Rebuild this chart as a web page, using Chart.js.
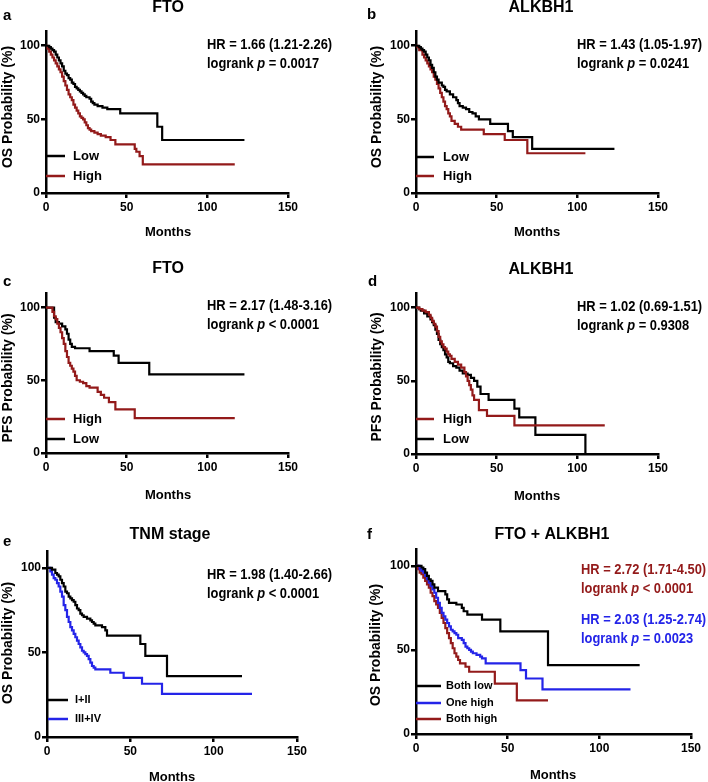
<!DOCTYPE html>
<html>
<head>
<meta charset="utf-8">
<script src="https://cdn.jsdelivr.net/npm/chart.js@4.4.1/dist/chart.umd.min.js"></script>
<style>
  body { margin: 0; background: #fff; }
  #fig { position: relative; width: 708px; height: 782px; }
  #fig canvas { position: absolute; }
</style>
</head>
<body>
<div id="fig"></div>
<script>
// axis ticks
const monthTicks = [0, 50, 100, 150];
const probTicks = [0, 50, 100];

// Kaplan-Meier steps: [months, survival %]
const osFtoLow = [[0,100],[2,99],[3,98],[4,97],[5,96],[6,94],[7,92],[8,90],[9,88],[10,86],[11,83],[12,81],[13,80],[14,78],[15,77],[16,75],[17,74],[18,72],[19,71],[20,70],[21,69],[22,68],[23,67],[24,66],[25,65],[27,64],[28,62],[29,61],[30,60],[32,59],[35,58],[38,57],[46,54],[69,45],[72,36],[123,36]];
const osFtoHigh = [[0,100],[1,98],[2,96],[3,94],[4,92],[5,90],[6,88],[7,86],[8,84],[9,82],[10,79],[11,76],[12,73],[13,70],[14,67],[15,65],[16,63],[17,60],[18,58],[19,56],[20,54],[21,52],[22,51],[23,50],[24,48],[25,46],[26,44],[27,43],[28,42],[30,41],[32,40],[34,39],[37,38],[40,36],[43,33],[55,30],[56,28],[58,25],[60,19.5],[117,19.5]];

const osAlkLow = [[0,100],[2,99],[3,98],[4,97],[5,96],[6,94],[7,92],[8,90],[9,87],[10,85],[11,82],[12,79],[13,77],[14,75],[16,73],[17,72],[18,70],[19,69],[21,67],[23,65],[25,63],[26,61],[27,59],[29,58],[31,57],[33,55],[35,54],[37,52],[39,50],[46,47],[57,42],[60,38],[72,30],[123,30]];
const osAlkHigh = [[0,100],[1,99],[2,97],[4,94],[5,92],[6,90],[7,88],[8,86],[9,84],[10,82],[11,79],[12,77],[13,74],[14,71],[15,68],[16,65],[17,62],[18,59],[19,57],[20,54],[21,52],[22,49],[24,47],[26,45],[28,43],[42,40],[55,36],[69,27],[105,27]];

const pfsFtoHigh = [[0,100],[4,97],[5,94],[6,92],[7,89],[8,86],[9,83],[10,79],[11,75],[12,70],[13,66],[14,62],[15,60],[16,58],[17,56],[18,53],[19,50],[21,49],[23,48],[25,46],[27,45],[32,42],[34,40],[36,38],[39,35],[43,30],[55,24],[117,24]];
const pfsFtoLow = [[0,100],[5,93],[6,90],[8,89],[10,87],[12,85],[13,82],[14,78],[15,75],[16,73],[18,72],[27,70],[42,67],[45,62],[64,54],[123,54]];

const pfsAlkHigh = [[0,100],[2,99],[4,98],[6,97],[8,95],[9,93],[10,91],[11,89],[12,87],[13,84],[14,80],[15,77],[16,75],[17,73],[18,72],[19,70],[20,68],[21,67],[22,65],[24,63],[26,61],[28,59],[30,56],[31,53],[32,50],[33,47],[34,44],[35,40],[36,37],[39,30],[44,26],[61,19.5],[117,19.5]];
const pfsAlkLow = [[0,100],[2,99],[3,98],[5,96],[7,94],[9,92],[10,90],[11,88],[12,85],[13,82],[14,78],[15,75],[16,73],[17,71],[18,68],[19,66],[20,63],[21,62],[23,60],[25,59],[27,57],[29,55],[32,54],[34,52],[36,50],[38,46],[40,41],[45,37],[61,31],[64,25],[74,13],[105,0]];

const osTnmEarly = [[0,100],[3,99],[5,97],[6,96],[7,95],[8,93],[9,91],[10,89],[11,86],[12,85],[13,83],[14,82],[15,81],[16,80],[17,78],[18,76],[19,75],[20,73],[21,72],[22,71],[24,70],[26,69],[27,68],[28,67],[29,66],[33,65],[35,63],[36,60],[56,55],[59,48],[72,36],[117,36]];
const osTnmLate = [[0,100],[2,98],[3,96],[4,94],[5,93],[6,91],[7,89],[8,86],[9,83],[10,78],[11,75],[12,71],[13,68],[14,65],[15,63],[16,61],[17,59],[18,57],[19,55],[20,53],[21,51],[22,50],[23,49],[24,48],[25,46],[26,44],[27,42],[28,41],[29,40],[38,38],[46,35],[57,31.5],[69,25.5],[123,25.5]];

const osComboLow = [[0,100],[3,99],[4,98],[5,96],[6,94],[7,92],[8,91],[9,89],[10,87],[12,85],[16,83],[17,80],[18,78],[22,77],[25,75],[26,73],[28,71],[36,68],[46,61],[72,41],[122,41]];
const osComboOne = [[0,100],[2,98],[3,97],[4,96],[5,94],[6,92],[7,90],[8,88],[9,86],[10,84],[11,81],[12,78],[13,75],[14,72],[15,70],[16,68],[17,66],[18,64],[19,62],[20,61],[21,60],[22,59],[23,57],[25,56],[26,54],[27,52],[28,51],[29,50],[30,49],[31,48],[33,47],[35,46],[36,45],[38,42],[57,38],[60,33],[69,26.5],[117,26.5]];
const osComboBoth = [[0,100],[1,98],[2,96],[3,95],[4,93],[5,91],[6,89],[7,87],[8,84],[9,82],[10,79],[11,77],[12,75],[13,72],[14,69],[15,66],[16,63],[17,60],[18,57],[19,54],[20,51],[21,48],[22,46],[23,44],[24,42],[27,40],[29,37],[43,30],[55,20],[72,20]];

const BLACK = '#000000';
const RED = '#931a1a';
const BLUE = '#2424e8';
const FONT = 'Arial, "Liberation Sans", Helvetica, sans-serif';

// box = canvas [left, top, w, h]; area = plot [left, top, right, bottom] inside canvas
const panels = [
  { letter: 'a', letterAt: [3, 16], box: [0, 0, 354, 260], area: [46, 31, 288, 193],
    title: 'FTO', titleAt: [168, 8], yTitle: 'OS Probability (%)', yTitleAt: [8, 107], monthsAt: [168, 232],
    series: [{ data: osFtoLow, color: BLACK, label: 'Low' }, { data: osFtoHigh, color: RED, label: 'High' }],
    legend: { x0: 46, x1: 65, tx: 73, ys: [156, 176], size: 13 },
    stats: [{ hr: 'HR = 1.66 (1.21-2.26)', p: ' = 0.0017', color: BLACK, x: 207, y: 45 }] },
  { letter: 'b', letterAt: [13, 15], box: [354, 0, 354, 260], area: [62, 31, 304, 193],
    title: 'ALKBH1', titleAt: [187, 8], yTitle: 'OS Probability (%)', yTitleAt: [23, 107], monthsAt: [183, 232],
    series: [{ data: osAlkLow, color: BLACK, label: 'Low' }, { data: osAlkHigh, color: RED, label: 'High' }],
    legend: { x0: 62, x1: 80, tx: 89, ys: [157, 176], size: 13 },
    stats: [{ hr: 'HR = 1.43 (1.05-1.97)', p: ' = 0.0241', color: BLACK, x: 223, y: 45 }] },
  { letter: 'c', letterAt: [3, 22], box: [0, 260, 354, 260], area: [46, 33, 288, 193],
    title: 'FTO', titleAt: [168, 9], yTitle: 'PFS Probability (%)', yTitleAt: [8, 118], monthsAt: [168, 235],
    series: [{ data: pfsFtoHigh, color: RED, label: 'High' }, { data: pfsFtoLow, color: BLACK, label: 'Low' }],
    legend: { x0: 46, x1: 65, tx: 73, ys: [159, 179], size: 13 },
    stats: [{ hr: 'HR = 2.17 (1.48-3.16)', p: ' < 0.0001', color: BLACK, x: 207, y: 46 }] },
  { letter: 'd', letterAt: [14, 22], box: [354, 260, 354, 260], area: [62, 33, 304, 194],
    title: 'ALKBH1', titleAt: [187, 10], yTitle: 'PFS Probability (%)', yTitleAt: [23, 117], monthsAt: [183, 236],
    series: [{ data: pfsAlkHigh, color: RED, label: 'High' }, { data: pfsAlkLow, color: BLACK, label: 'Low' }],
    legend: { x0: 62, x1: 80, tx: 89, ys: [159, 179], size: 13 },
    stats: [{ hr: 'HR = 1.02 (0.69-1.51)', p: ' = 0.9308', color: BLACK, x: 223, y: 47 }] },
  { letter: 'e', letterAt: [3, 22], box: [0, 520, 354, 262], area: [47, 31, 297, 217],
    title: 'TNM stage', titleAt: [170, 15], yTitle: 'OS Probability (%)', yTitleAt: [8, 123], monthsAt: [172, 257],
    series: [{ data: osTnmEarly, color: BLACK, label: 'I+II' }, { data: osTnmLate, color: BLUE, label: 'III+IV' }],
    legend: { x0: 48, x1: 68, tx: 75, ys: [180, 199], size: 11 },
    stats: [{ hr: 'HR = 1.98 (1.40-2.66)', p: ' < 0.0001', color: BLACK, x: 207, y: 55 }] },
  { letter: 'f', letterAt: [13, 15], box: [354, 520, 354, 262], area: [62, 29, 337, 214],
    title: 'FTO + ALKBH1', titleAt: [198, 15], yTitle: 'OS Probability (%)', yTitleAt: [22, 125], monthsAt: [199, 255],
    series: [{ data: osComboLow, color: BLACK, label: 'Both low' }, { data: osComboOne, color: BLUE, label: 'One high' },
             { data: osComboBoth, color: RED, label: 'Both high' }],
    legend: { x0: 62, x1: 87, tx: 92, ys: [166, 183, 199], size: 11 },
    stats: [{ hr: 'HR = 2.72 (1.71-4.50)', p: ' < 0.0001', color: RED, x: 227, y: 50 },
            { hr: 'HR = 2.03 (1.25-2.74)', p: ' = 0.0023', color: BLUE, x: 227, y: 100 }] },
];

// draws text pieces side by side, [text, italic]
function drawRich(ctx, parts, x, y, size, sx) {
  ctx.save();
  ctx.translate(x, y);
  ctx.scale(sx, 1);
  ctx.textAlign = 'left';
  ctx.textBaseline = 'middle';
  let cx = 0;
  for (const [txt, italic] of parts) {
    ctx.font = (italic ? 'italic ' : '') + 'bold ' + size + 'px ' + FONT;
    ctx.fillText(txt, cx, 0);
    cx += ctx.measureText(txt).width;
  }
  ctx.restore();
}

const decor = (p) => ({
  id: 'decor' + p.letter,
  afterDraw(chart) {
    const ctx = chart.ctx;
    ctx.save();
    ctx.fillStyle = BLACK;
    ctx.textBaseline = 'middle';

    ctx.font = 'bold 15px ' + FONT;
    ctx.textAlign = 'left';
    ctx.fillText(p.letter, p.letterAt[0], p.letterAt[1]);

    ctx.font = 'bold 16px ' + FONT;
    ctx.textAlign = 'center';
    ctx.fillText(p.title, p.titleAt[0], p.titleAt[1]);

    ctx.font = 'bold 13px ' + FONT;
    ctx.fillText('Months', p.monthsAt[0], p.monthsAt[1]);

    ctx.save();
    ctx.translate(p.yTitleAt[0], p.yTitleAt[1]);
    ctx.rotate(-Math.PI / 2);
    ctx.font = 'bold 14px ' + FONT;
    ctx.fillText(p.yTitle, 0, 0);
    ctx.restore();

    // HR / logrank lines
    p.stats.forEach((s) => {
      ctx.fillStyle = s.color;
      drawRich(ctx, [[s.hr, false]], s.x, s.y, 15, 0.86);
      drawRich(ctx, [['logrank ', false], ['p', true], [s.p, false]], s.x, s.y + 19, 15, 0.86);
    });

    // legend
    const lg = p.legend;
    p.series.forEach((s, i) => {
      ctx.strokeStyle = s.color;
      ctx.lineWidth = 2.5;
      ctx.beginPath();
      ctx.moveTo(lg.x0, lg.ys[i]);
      ctx.lineTo(lg.x1, lg.ys[i]);
      ctx.stroke();
      ctx.fillStyle = BLACK;
      drawRich(ctx, [[s.label, false]], lg.tx, lg.ys[i], lg.size, 1);
    });
    ctx.restore();
  },
});

const fig = document.getElementById('fig');

panels.forEach((p) => {
  const [left, top, w, h] = p.box;
  const [aL, aT, aR, aB] = p.area;
  const canvas = document.createElement('canvas');
  canvas.width = w;
  canvas.height = h;
  canvas.style.left = left + 'px';
  canvas.style.top = top + 'px';
  canvas.style.width = w + 'px';
  canvas.style.height = h + 'px';
  fig.appendChild(canvas);

  const axisCommon = {
    grid: { display: true, drawOnChartArea: false, drawTicks: true, tickLength: 5, color: BLACK, lineWidth: 2.5 },
    border: { display: true, color: BLACK, width: 2.5 },
  };

  new Chart(canvas.getContext('2d'), {
    type: 'line',
    data: {
      datasets: p.series.map((s) => ({
        label: s.label,
        data: s.data.map(([x, y]) => ({ x, y })),
        borderColor: s.color,
        borderWidth: 2.2,
        stepped: 'before',
        pointRadius: 0,
        fill: false,
      })),
    },
    options: {
      responsive: false,
      animation: false,
      events: [],
      layout: { padding: { left: 0, top: aT, right: w - aR, bottom: 0 } },
      plugins: { legend: { display: false }, tooltip: { enabled: false }, title: { display: false } },
      scales: {
        x: {
          ...axisCommon,
          type: 'linear',
          min: 0,
          max: 150,
          afterBuildTicks: (s) => { s.ticks = monthTicks.map((v) => ({ value: v })); },
          afterFit: (s) => { s.height = h - aB; },
          ticks: { color: BLACK, font: { family: FONT, size: 12, weight: 'bold' }, padding: 2, maxRotation: 0, autoSkip: false },
        },
        y: {
          ...axisCommon,
          min: 0,
          max: 110,
          afterBuildTicks: (s) => { s.ticks = probTicks.map((v) => ({ value: v })); },
          afterFit: (s) => { s.width = aL; },
          ticks: { color: BLACK, font: { family: FONT, size: 12, weight: 'bold' }, padding: 1 },
        },
      },
    },
    plugins: [decor(p)],
  });
});
</script>
</body>
</html>
